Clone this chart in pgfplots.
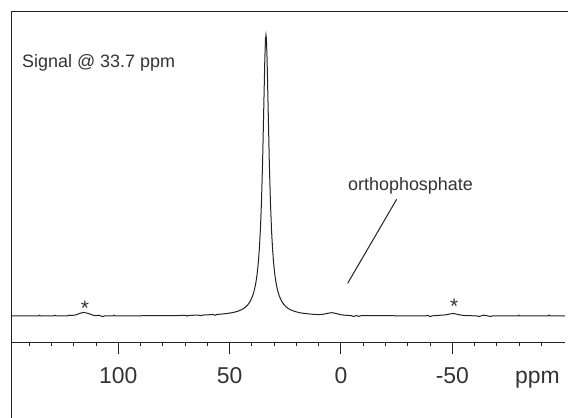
\documentclass[border=0pt]{standalone}
\usepackage{fontspec}
\setmainfont{Liberation Sans}
\usepackage{pgfplots}
\pgfplotsset{compat=1.18}
\definecolor{ink}{HTML}{222222}
\definecolor{txt}{HTML}{333333}
\begin{document}
\begin{tikzpicture}
\useasboundingbox (-11bp,-76bp) rectangle (557bp,342bp);
\begin{axis}[
  scale only axis,
  width=554bp, height=330bp,
  xmin=-100.6, xmax=148.2,
  ymin=-0.0925, ymax=1.0819,
  x dir=reverse,
  axis x line*=bottom,
  axis y line=none,
  x axis line style={ink, line width=1bp},
  xtick={-50,0,50,100},
  minor xtick={-90,-80,-70,-60,-40,-30,-20,-10,10,20,30,40,60,70,80,90,110,120,130,140},
  tick align=outside,
  major tick length=12bp,
  minor tick length=4.3bp,
  every tick/.style={ink, line width=1bp},
  /pgf/number format/assume math mode=true,
  xticklabel style={font=\fontsize{23}{26}\selectfont, text=txt, anchor=base, yshift=-29bp},
  clip=false,
]
\addplot[ink, line width=1bp] coordinates {
(-100.6,0.0002) (-94,0.0002) (-93.5,0.0035) (-93,0.0002) (-85,0.0003)
(-80.2,0.0003) (-79.8,0.003) (-79.4,0.0003) (-70,0.0004) (-68,0.0004)
(-67,-0.002) (-66,0.0004) (-64,0.003) (-63,0.0005) (-62,-0.002) (-61,0.0005)
(-56,0.0015) (-54,0.003) (-52,0.0065) (-50.5,0.009) (-49,0.0075) (-47,0.004)
(-45,0.003) (-41,0.0006) (-40,-0.002) (-39,0.002) (-38,0.0007) (-30,0.0008)
(-20,0.001) (-10,0.0013) (-9,0.0014) (-8,-0.0015) (-7,0.0015) (-5.5,-0.0015)
(-4.5,0.0016) (-3,0.002) (0,0.0044) (2,0.0087) (4,0.012) (6,0.0096) (8,0.0062)
(10,0.0049) (12,0.0058) (14,0.0071) (16.7,0.0094) (18.7,0.0121) (20.7,0.0160)
(22.7,0.0223) (23.7,0.0268) (24.7,0.0329) (25.7,0.0413) (26.7,0.0532)
(27.7,0.0711) (28.2,0.0835) (28.7,0.0993) (29.2,0.1198) (29.7,0.1469)
(30.2,0.1837) (30.7,0.2344) (31.2,0.3060) (31.7,0.4079) (32.2,0.5505)
(32.7,0.7337) (33.2,0.9168) (33.5,0.9857) (33.7,1) (33.9,0.9857) (34.2,0.9168)
(34.7,0.7337) (35.2,0.5505) (35.7,0.4079) (36.2,0.3060) (36.7,0.2344)
(37.2,0.1837) (37.7,0.1469) (38.2,0.1198) (38.7,0.0993) (39.2,0.0835)
(39.7,0.0711) (40.7,0.0532) (41.7,0.0413) (42.7,0.0329) (43.7,0.0268)
(44.7,0.0223) (46.7,0.0160) (48.7,0.0121) (50.7,0.0094) (53.4,0.0071)
(55.7,0.0057) (56.5,0.0025) (57.5,0.0055) (60,0.0040) (62,0.0035) (63,0.0010)
(64,0.0032) (68.5,0.0022) (69,-0.0005) (69.5,0.0022) (73.7,0.0017) (80,0.0013)
(90,0.0009) (100,0.0006) (101.5,0.0006) (102,0.003) (102.5,0.0006) (106,0.0006)
(107,-0.002) (108,0.0006) (109,0.003) (110,0.001) (111,0.002) (112,0.005)
(113.5,0.009) (115.5,0.013) (117.5,0.009) (119,0.004) (121,0.002) (122,0.003)
(123,0.0005) (128,0.0004) (128.5,0.003) (129,0.0004) (135,0.0003) (135.5,0.003)
(136,0.0003) (148.2,0.0003)
};
% annotations
\node[anchor=base west, inner sep=0, text=txt, font=\fontsize{18}{20}\selectfont] at (rel axis cs:0.01986,0.8303) {Signal @ 33.7 ppm};
\node[anchor=base west, inner sep=0, text=txt, font=\fontsize{18}{20}\selectfont] at (rel axis cs:0.6083,0.4576) {orthophosphate};
\draw[ink, line width=1bp] (axis cs:-25.0,0.4153) -- (axis cs:-3.0,0.1164);
\node[anchor=base, inner sep=0, text=txt, font=\fontsize{21}{23}\selectfont] at (axis cs:115.0,0.0010) {*};
\node[anchor=base, inner sep=0, text=txt, font=\fontsize{21}{23}\selectfont] at (axis cs:-50.8,0.0081) {*};
\node[anchor=base, inner sep=0, text=txt, font=\fontsize{23}{26}\selectfont] at (rel axis cs:0.9504,0) [yshift=-41bp] {ppm};
\end{axis}
% frame lines (left and top)
\draw[ink, line width=1bp] (0bp,-76bp) -- (0bp,330bp) -- (557bp,330bp);
\end{tikzpicture}
\end{document}
